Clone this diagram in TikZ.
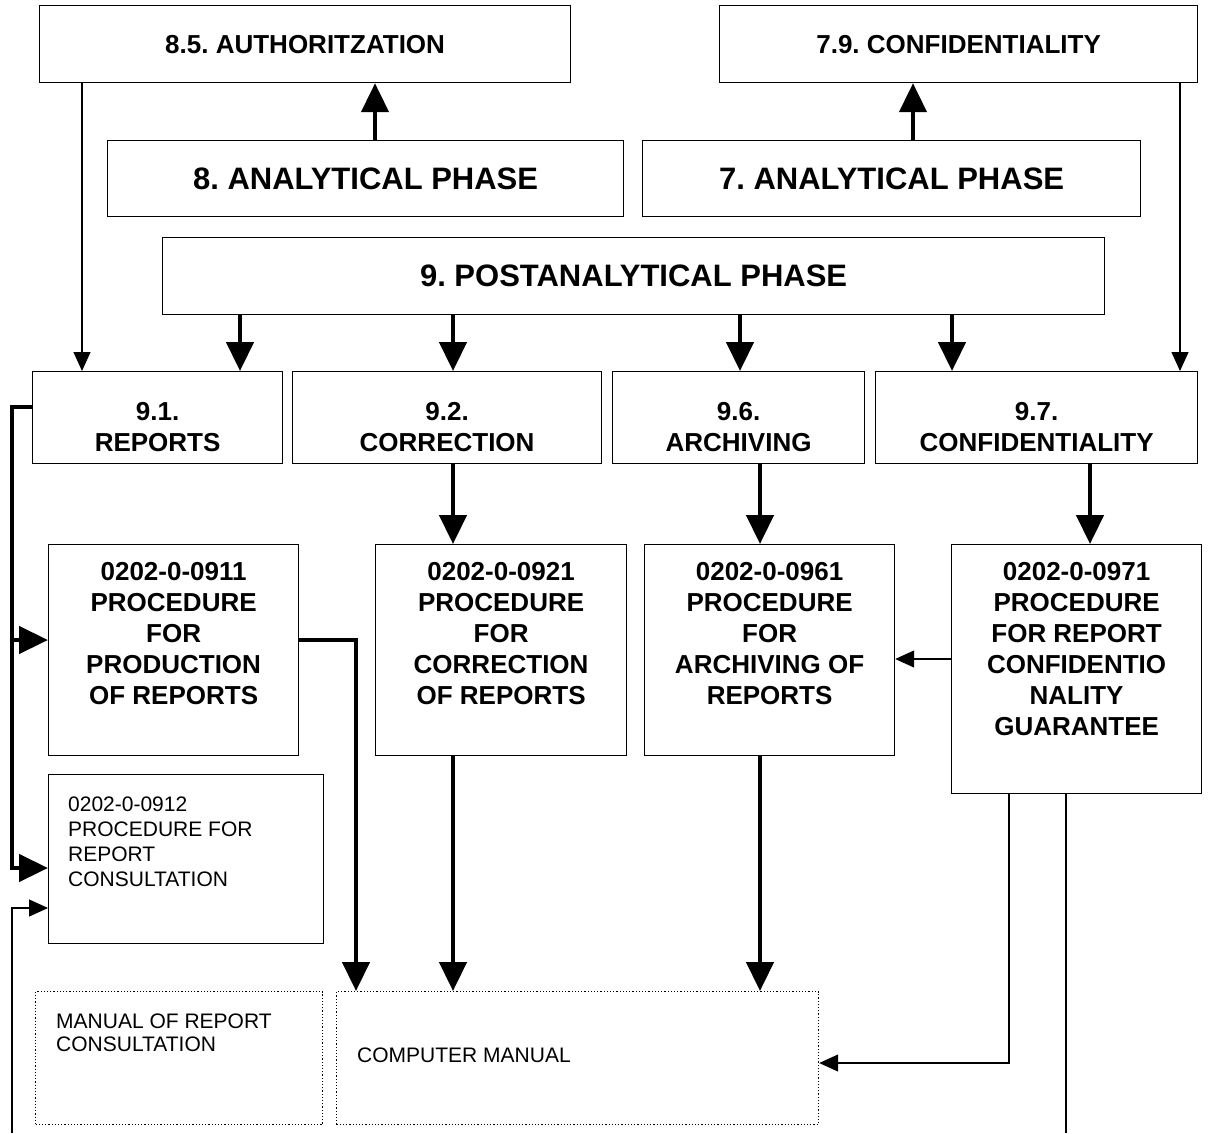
\documentclass[tikz,border=0pt]{standalone}
\usepackage{fontspec}
\setmainfont{Liberation Sans}
\usetikzlibrary{positioning,arrows.meta}
\frenchspacing

\begin{document}
\begin{tikzpicture}[x=1pt,y=-1pt,
	blk/.style={draw, line width=1.2pt, anchor=north west, inner sep=0pt},
	dotblk/.style={blk, dotted},
	hd/.style={font=\bfseries\fontsize{26}{30}\selectfont},
	big/.style={font=\bfseries\fontsize{31}{36}\selectfont},
	boldtxt/.style={inner sep=0pt, align=center, font=\bfseries\fontsize{26}{31}\selectfont},
	normtxt/.style={inner sep=0pt, align=left, font=\fontsize{21}{25}\selectfont},
	fat/.style={line width=4.5pt, -{Triangle[length=29pt,width=27pt]}},
	thinarr/.style={line width=1.2pt, -{Triangle[length=19pt,width=17pt]}}]
	\useasboundingbox (0,0) rectangle (1215,1133);
	% phases
	\node[blk, hd, minimum width=531, minimum height=77] (a85) at (39,5) {8.5. AUTHORITZATION};
	\node[blk, hd, minimum width=478, minimum height=77] (a79) at (719,5) {7.9. CONFIDENTIALITY};
	\node[blk, big, minimum width=516, minimum height=76] (a8) at (107,140) {8. ANALYTICAL PHASE};
	\node[blk, big, minimum width=498, minimum height=76] (a7) at (642,140) {7. ANALYTICAL PHASE};
	\node[blk, big, minimum width=942, minimum height=77] (p9) at (162,237) {9. POSTANALYTICAL PHASE};
	% sections
	\node[blk, minimum width=250, minimum height=92] (r91) at (32,371) {};
	\node[blk, minimum width=309, minimum height=92] (r92) at (292,371) {};
	\node[blk, minimum width=252, minimum height=92] (r96) at (612,371) {};
	\node[blk, minimum width=322, minimum height=92] (r97) at (875,371) {};
	\foreach \n/\t in {r91/{9.1.\\REPORTS}, r92/{9.2.\\CORRECTION}, r96/{9.6.\\ARCHIVING}, r97/{9.7.\\CONFIDENTIALITY}}
		\node[boldtxt, below=31pt of \n.north] (\n-t) {\t};
	% procedures
	\node[blk, minimum width=250, minimum height=211] (p0911) at (48,544) {};
	\node[blk, minimum width=251, minimum height=211] (p0921) at (375,544) {};
	\node[blk, minimum width=250, minimum height=211] (p0961) at (644,544) {};
	\node[blk, minimum width=250, minimum height=249] (p0971) at (951,544) {};
	\node[blk, minimum width=275, minimum height=169] (p0912) at (48,774) {};
	\foreach \n/\t in {p0911/{0202-0-0911\\PROCEDURE\\FOR\\PRODUCTION\\OF REPORTS},
		p0921/{0202-0-0921\\PROCEDURE\\FOR\\CORRECTION\\OF REPORTS},
		p0961/{0202-0-0961\\PROCEDURE\\FOR\\ARCHIVING OF\\REPORTS},
		p0971/{0202-0-0971\\PROCEDURE\\FOR REPORT\\CONFIDENTIO\\NALITY\\GUARANTEE}}
		\node[boldtxt, below=18pt of \n.north] (\n-t) {\t};
	\node[normtxt, below right=23pt and 20pt of p0912.north west] (p0912-t) {0202-0-0912\\PROCEDURE FOR\\REPORT\\CONSULTATION};
	% manuals
	\node[dotblk, minimum width=287, minimum height=133] (mrc) at (35,991) {};
	\node[dotblk, minimum width=482, minimum height=133] (cman) at (336,991) {};
	\node[normtxt, font=\fontsize{21}{23}\selectfont, below right=23pt and 21pt of mrc.north west] (mrc-t) {MANUAL OF REPORT\\CONSULTATION};
	\node[normtxt, anchor=west, yshift=3pt, right=21pt of cman.west] (cman-t) {COMPUTER MANUAL};
	% arrows
	\draw[fat] (a8.north -| 375,0) -- (a85.south -| 375,0);
	\draw[fat] (a7.north -| 913,0) -- (a79.south -| 913,0);
	\draw[thinarr] (a85.south -| 82,0) -- (r91.north -| 82,0);
	\draw[thinarr] (a79.south -| 1180,0) -- (r97.north -| 1180,0);
	\foreach \x/\tgt in {240/r91, 453/r92, 740/r96, 952/r97}
		\draw[fat] (p9.south -| \x,0) -- (\tgt.north -| \x,0);
	\foreach \x/\a/\b in {453/r92/p0921, 760/r96/p0961, 1090/r97/p0971}
		\draw[fat] (\a.south -| \x,0) -- (\b.north -| \x,0);
	\draw[fat] (r91.west |- 0,407) -| (12,868) -- (p0912.west |- 0,868);
	\draw[fat] (12,640) -- (p0911.west |- 0,640);
	\draw[thinarr] (12,1133) |- (p0912.west |- 0,908);
	\draw[fat] (p0911.east |- 0,640) -| (cman.north -| 356,0);
	\draw[fat] (p0921.south -| 453,0) -- (cman.north -| 453,0);
	\draw[fat] (p0961.south -| 760,0) -- (cman.north -| 760,0);
	\draw[thinarr] (p0971.west |- 0,659) -- (p0961.east |- 0,659);
	\draw[thinarr] (p0971.south -| 1009,0) |- (cman.east |- 0,1063);
	\draw[line width=1.2pt] (p0971.south -| 1066,0) -- (1066,1133);
\end{tikzpicture}
\end{document}
